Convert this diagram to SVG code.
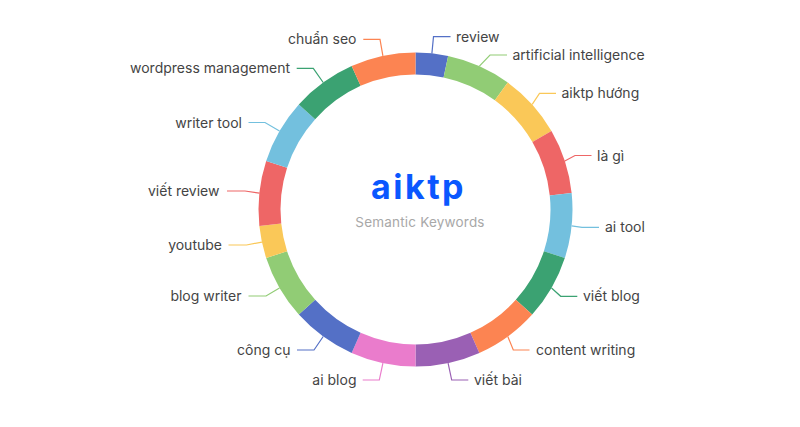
<svg xmlns="http://www.w3.org/2000/svg" width="800" height="427" viewBox="0 0 800 427">
<style>
.lbl{font-family:Inter,"Noto Sans","DejaVu Sans",sans-serif;font-size:14px;fill:#444}
.end{text-anchor:end}
.ln{fill:none;stroke-width:1.2}
.c1{fill:#5470c6}.c2{fill:#91cc75}.c3{fill:#fac858}.c4{fill:#ee6666}.c5{fill:#73c0de}.c6{fill:#3ba272}.c7{fill:#fc8452}.c8{fill:#9a60b4}.c9{fill:#ea7ccc}
.s1{stroke:#5470c6}.s2{stroke:#91cc75}.s3{stroke:#fac858}.s4{stroke:#ee6666}.s5{stroke:#73c0de}.s6{stroke:#3ba272}.s7{stroke:#fc8452}.s8{stroke:#9a60b4}.s9{stroke:#ea7ccc}
</style>
<rect width="800" height="427" fill="#fff"/>
<g id="connectors">
<polyline class="ln s1" points="431.9,53.4 433.5,36.7 450.5,36.7"/>
<polyline class="ln s2" points="479.4,66.1 490,55 507,55"/>
<polyline class="ln s3" points="532.2,104.4 539.5,93.3 556,93.3"/>
<polyline class="ln s4" points="564.8,161 575,155.5 591.5,155.5"/>
<polyline class="ln s5" points="571.6,225.9 582,227.3 599,227.3"/>
<polyline class="ln s6" points="551.5,288 560.7,296.3 577.3,296.3"/>
<polyline class="ln s7" points="507.8,336.5 513.3,350 529.5,350"/>
<polyline class="ln s8" points="448.1,363.1 451.7,380 468.3,380"/>
<polyline class="ln s9" points="382.9,363.1 379.3,380 362.7,380"/>
<polyline class="ln s1" points="323.2,336.5 314,350 297,350"/>
<polyline class="ln s2" points="279.5,288 266,296 248.5,296"/>
<polyline class="ln s3" points="261.9,242.1 246.5,245 228.5,245"/>
<polyline class="ln s4" points="259.4,193.1 245,191 227,191"/>
<polyline class="ln s5" points="279.5,131 265,122.5 248.5,122.5"/>
<polyline class="ln s6" points="323.2,82.5 313.3,68.3 296.7,68.3"/>
<polyline class="ln s7" points="382.9,55.9 380,39.3 363.3,39.3"/>
</g>
<g id="n-review"><path class="c1" d="M415.5,52.5 A157,157 0 0 1 448.14,55.94 L443.57,77.46 A135,135 0 0 0 415.5,74.5 Z"/><text class="lbl" x="456" y="41.7">review</text></g>
<g id="n-artificial-intelligence"><path class="c2" d="M448.14,55.94 A157,157 0 0 1 507.78,82.49 L494.85,100.28 A135,135 0 0 0 443.57,77.46 Z"/><text class="lbl" x="512.5" y="60">artificial intelligence</text></g>
<g id="n-aiktp-huong"><path class="c3" d="M507.78,82.49 A157,157 0 0 1 551.46,131 L532.41,142 A135,135 0 0 0 494.85,100.28 Z"/><text class="lbl" x="561.5" y="98.3">aiktp hướng</text></g>
<g id="n-la-gi"><path class="c4" d="M551.46,131 A157,157 0 0 1 571.64,193.09 L549.76,195.39 A135,135 0 0 0 532.41,142 Z"/><text class="lbl" x="597" y="160.5">là gì</text></g>
<g id="n-ai-tool"><path class="c5" d="M571.64,193.09 A157,157 0 0 1 564.82,258.01 L543.9,251.22 A135,135 0 0 0 549.76,195.39 Z"/><text class="lbl" x="605" y="232.3">ai tool</text></g>
<g id="n-viet-blog"><path class="c6" d="M564.82,258.01 A157,157 0 0 1 532.17,314.55 L515.82,299.83 A135,135 0 0 0 543.9,251.22 Z"/><text class="lbl" x="583" y="301.3">viết blog</text></g>
<g id="n-content-writing"><path class="c7" d="M532.17,314.55 A157,157 0 0 1 479.35,352.92 L470.4,332.82 A135,135 0 0 0 515.82,299.83 Z"/><text class="lbl" x="536" y="355">content writing</text></g>
<g id="n-viet-bai"><path class="c8" d="M479.35,352.92 A157,157 0 0 1 415.5,366.5 L415.5,344.5 A135,135 0 0 0 470.4,332.82 Z"/><text class="lbl" x="474" y="385">viết bài</text></g>
<g id="n-ai-blog"><path class="c9" d="M415.5,366.5 A157,157 0 0 1 351.65,352.92 L360.6,332.82 A135,135 0 0 0 415.5,344.5 Z"/><text class="lbl end" x="356.5" y="385">ai blog</text></g>
<g id="n-cong-cu"><path class="c1" d="M351.65,352.92 A157,157 0 0 1 298.83,314.55 L315.18,299.83 A135,135 0 0 0 360.6,332.82 Z"/><text class="lbl end" x="290.5" y="355">công cụ</text></g>
<g id="n-blog-writer"><path class="c2" d="M298.83,314.55 A157,157 0 0 1 266.18,258.01 L287.1,251.22 A135,135 0 0 0 315.18,299.83 Z"/><text class="lbl end" x="241.5" y="301">blog writer</text></g>
<g id="n-youtube"><path class="c3" d="M266.18,258.01 A157,157 0 0 1 259.36,225.91 L281.24,223.61 A135,135 0 0 0 287.1,251.22 Z"/><text class="lbl end" x="222" y="250">youtube</text></g>
<g id="n-viet-review"><path class="c4" d="M259.36,225.91 A157,157 0 0 1 266.18,160.99 L287.1,167.79 A135,135 0 0 0 281.24,223.61 Z"/><text class="lbl end" x="219.5" y="196">viết review</text></g>
<g id="n-writer-tool"><path class="c5" d="M266.18,160.99 A157,157 0 0 1 298.83,104.45 L315.18,119.17 A135,135 0 0 0 287.1,167.79 Z"/><text class="lbl end" x="242" y="127.5">writer tool</text></g>
<g id="n-wordpress-management"><path class="c6" d="M298.83,104.45 A157,157 0 0 1 351.65,66.08 L360.6,85.78 A135,135 0 0 0 315.18,119.17 Z"/><text class="lbl end" x="290" y="73.3">wordpress management</text></g>
<g id="n-chuan-seo"><path class="c7" d="M351.65,66.08 A157,157 0 0 1 415.5,52.5 L415.5,74.5 A135,135 0 0 0 360.6,85.78 Z"/><text class="lbl end" x="356.5" y="44.3">chuẩn seo</text></g>
<g id="center">
<text x="418.5" y="199" text-anchor="middle" font-family="Inter,'Noto Sans',sans-serif" font-weight="700" font-size="34" letter-spacing="2.5" fill="#0a57ff">aiktp</text>
<text x="420" y="226.5" text-anchor="middle" font-family="Inter,'Noto Sans',sans-serif" font-size="13.5" letter-spacing="0.2" fill="#a8a8a8">Semantic Keywords</text>
</g>
</svg>
